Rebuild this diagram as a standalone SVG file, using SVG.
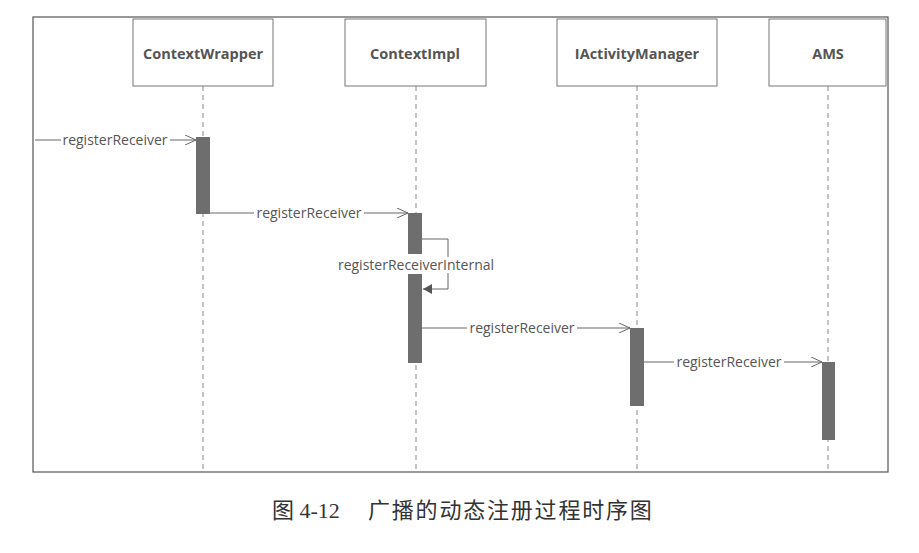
<svg xmlns="http://www.w3.org/2000/svg" width="919" height="553" viewBox="0 0 919 553">
<defs>
<style>
.box{fill:#fff;stroke:#777;stroke-width:1}
.title{font-family:"Open Sans","Liberation Sans",sans-serif;font-weight:bold;font-size:14.5px;fill:#555;text-anchor:middle}
.life{stroke:#888;stroke-width:1;stroke-dasharray:5,4;fill:none}
.bar{fill:#6e6e6e}
.msg{stroke:#666;stroke-width:1;fill:none}
.lbl{font-family:"Open Sans","Liberation Sans",sans-serif;font-size:14px;fill:#555;text-anchor:middle}
.cap{font-family:"Liberation Serif","Noto Sans CJK SC",serif;font-size:22px;fill:#333}
</style>
<marker id="open" markerWidth="12" markerHeight="10" refX="11" refY="5" orient="auto" markerUnits="userSpaceOnUse">
<path d="M0,0 L11,5 L0,10" fill="none" stroke="#666" stroke-width="1"/>
</marker>
<marker id="filled" markerWidth="10" markerHeight="10" refX="9" refY="5" orient="auto" markerUnits="userSpaceOnUse">
<path d="M0,0 L9,5 L0,10 Z" fill="#555"/>
</marker>
</defs>
<rect x="0" y="0" width="919" height="553" fill="#fff"/>
<rect x="33" y="17" width="855" height="455" fill="none" stroke="#555" stroke-width="1.2"/>

<g id="ContextWrapper">
<line class="life" x1="203" y1="86" x2="203" y2="472"/>
<rect class="box" x="133" y="19" width="140" height="67"/>
<text class="title" x="203" y="59">ContextWrapper</text>
<rect class="bar" x="196" y="137" width="14" height="77"/>
</g>
<g id="ContextImpl">
<line class="life" x1="416" y1="86" x2="416" y2="472"/>
<rect class="box" x="345" y="19" width="141" height="67"/>
<text class="title" x="415" y="59">ContextImpl</text>
<rect class="bar" x="408" y="213" width="14" height="41"/>
<rect class="bar" x="408" y="274" width="14" height="89"/>
</g>
<g id="IActivityManager">
<line class="life" x1="637" y1="86" x2="637" y2="472"/>
<rect class="box" x="557" y="19" width="160" height="67"/>
<text class="title" x="637" y="59">IActivityManager</text>
<rect class="bar" x="630" y="328" width="14" height="78"/>
</g>
<g id="AMS">
<line class="life" x1="828" y1="86" x2="828" y2="472"/>
<rect class="box" x="769" y="19" width="117" height="67"/>
<text class="title" x="828" y="59">AMS</text>
<rect class="bar" x="822" y="362" width="13" height="78"/>
</g>

<g id="connectors">
<line class="msg" x1="35" y1="140" x2="196" y2="140" marker-end="url(#open)"/>
<rect x="61" y="132" width="109" height="15" fill="#fff"/>
<text class="lbl" x="115" y="145">registerReceiver</text>

<line class="msg" x1="210" y1="213" x2="408" y2="213" marker-end="url(#open)"/>
<rect x="254" y="205" width="110" height="15" fill="#fff"/>
<text class="lbl" x="309" y="218">registerReceiver</text>

<polyline class="msg" points="422,239 448,239 448,289 423,289" marker-end="url(#filled)"/>
<rect x="340" y="257" width="152" height="16" fill="#fff"/>
<text class="lbl" x="416" y="270">registerReceiverInternal</text>

<line class="msg" x1="422" y1="328" x2="630" y2="328" marker-end="url(#open)"/>
<rect x="467" y="320" width="110" height="15" fill="#fff"/>
<text class="lbl" x="522" y="333">registerReceiver</text>

<line class="msg" x1="644" y1="362" x2="822" y2="362" marker-end="url(#open)"/>
<rect x="674" y="354" width="110" height="15" fill="#fff"/>
<text class="lbl" x="729" y="367">registerReceiver</text>
</g>

<text class="cap" y="518"><tspan x="272">图 4-12</tspan><tspan x="368" letter-spacing="1.8">广播的动态注册过程时序图</tspan></text>
</svg>
